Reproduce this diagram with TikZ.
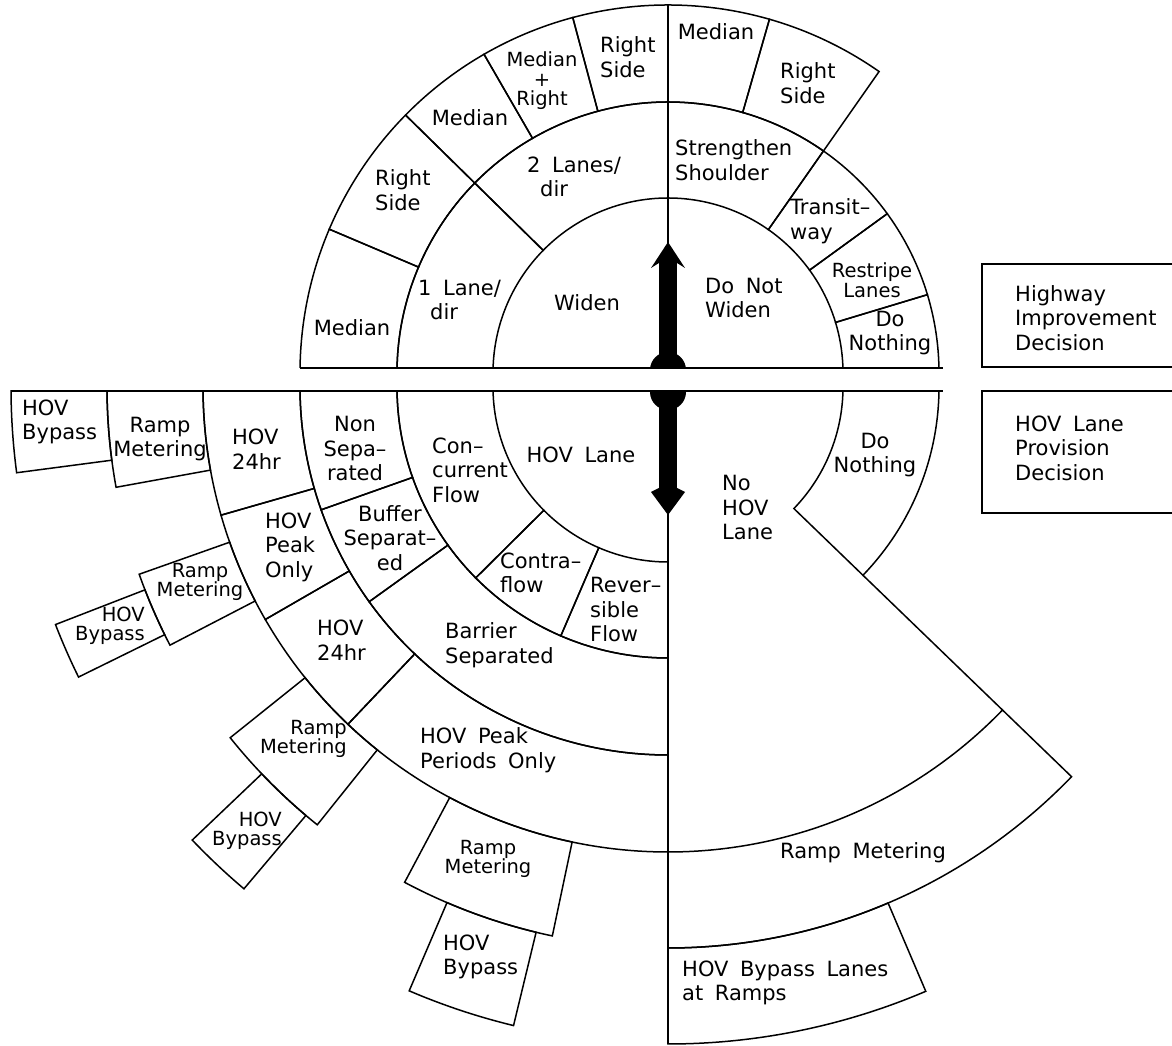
\documentclass[tikz,border=0pt]{standalone}
\usepackage{fontspec}
\setmainfont{DejaVu Sans}
\newcommand{\band}[4]{\draw[part] (#1:#3) -- (#1:#4) arc[start angle=#1, end angle=#2, radius=#4] -- (#2:#3) arc[start angle=#2, end angle=#1, radius=#3] -- cycle;}
\newcommand{\wsp}{\hspace{0.55em}}
\tikzset{
	part/.style={line width=1.5pt},
	lbl/.style={inner sep=0pt, align=left, font=\fontsize{21}{24.5}\selectfont},
	lblc/.style={lbl, align=center},
	lblr/.style={lbl, align=right},
	snug/.style={font=\fontsize{19.5}{19.5}\selectfont},
}
\begin{document}
\begin{tikzpicture}[x=1pt, y=1pt]
	\useasboundingbox (0,0) rectangle (1172,1046);
	\begin{scope}[shift={(668,673)}]
		\clip (-400,5) rectangle (400,400);
		\band{135.5}{180}{175}{271}
		\band{90}{135.5}{175}{271}
		\band{55}{90}{175}{271}
		\band{36}{55}{175}{271}
		\band{16.8}{36}{175}{271}
		\band{0}{16.8}{175}{271}
		\band{157}{180}{271}{368}
		\band{135.5}{157}{271}{368}
		\band{120}{135.5}{271}{368}
		\band{105}{120}{271}{368}
		\band{90}{105}{271}{368}
		\band{74}{90}{271}{368}
		\band{55}{74}{271}{368}
		\draw[part] (90:0) -- (90:368);
	\end{scope}
	\begin{scope}[shift={(668,659)}]
		\clip (-700,-4) rectangle (700,-700);
		\band{180}{224.8}{175}{271}
		\band{224.8}{246.7}{175}{271}
		\band{246.7}{270}{175}{271}
		\band{180}{199.5}{271}{368}
		\band{199.5}{215.7}{271}{368}
		\band{215.7}{270}{271}{368}
		\band{180}{196}{368}{465}
		\band{196}{210}{368}{465}
		\band{210}{226.5}{368}{465}
		\band{226.5}{270}{368}{465}
		\band{180}{190.3}{465}{561}
		\band{180}{187.5}{561}{657}
		\band{199.5}{207.4}{465}{561}
		\band{201.2}{206.2}{561}{657}
		\band{218.7}{231.3}{465}{561}
		\band{223.6}{229.8}{561}{657}
		\band{242}{258.1}{465}{561}
		\band{246.8}{256.4}{561}{657}
		\band{316}{360}{175}{271}
		\band{270}{316}{465}{561}
		\band{270}{293.1}{561}{657}
		\draw[part] (316:271) -- (316:465);
		\draw[part] (270:0) -- (270:657);
	\end{scope}
	\draw[part] (300,678) -- (943,678);
	\draw[part] (11,655) -- (943,655);
	\begin{scope}
		\clip (640,678) rectangle (700,700);
		\fill (668,676) circle[radius=18];
	\end{scope}
	\fill (659,678) rectangle (677,783);
	\fill (659,783) -- (651,778) -- (668,804) -- (685,778) -- (677,783) -- cycle;
	\begin{scope}
		\clip (640,655) rectangle (700,630);
		\fill (668,654) circle[radius=18];
	\end{scope}
	\fill (659,655) rectangle (677,558);
	\fill (659,558) -- (651,554) -- (668,531) -- (685,554) -- (677,558) -- cycle;
	\draw[part] (1172,782) -- (982,782) -- (982,679) -- (1172,679);
	\draw[part] (1172,655) -- (982,655) -- (982,533) -- (1172,533);
	\node[lblc] (medA) at (352,718) {Median};
	\node[lbl, anchor=west] (rsA) at (375,856) {Right\\Side};
	\node[lblc] (medB) at (470,928) {Median};
	\node[lblc, snug] (medR) at (542,965) {Median\\+\\Right};
	\node[lbl, anchor=west] (rsB) at (600,989) {Right\\Side};
	\node[lbl, anchor=west] (twoL) at (527,869) {2\wsp Lanes/\\\hspace*{13pt}dir};
	\node[lbl, anchor=west] (oneL) at (418,746) {1\wsp Lane/\\\hspace*{12pt}dir};
	\node[lblc] (widen) at (587,743) {Widen};
	\node[lbl, anchor=west] (nowiden) at (705,748) {Do\wsp Not\\Widen};
	\node[lbl, anchor=west] (shoulder) at (675,886) {Strengthen\\Shoulder};
	\node[lbl, anchor=west] (transit) at (790,825) {Transit--\\way};
	\node[lblc, snug] (restripe) at (872,766) {Restripe\\Lanes};
	\node[lblc] (nothingA) at (890,713) {Do\\Nothing};
	\node[lblc] (medC) at (716,1014) {Median};
	\node[lbl, anchor=west] (rsC) at (780,963) {Right\\Side};
	\node[lbl, anchor=west] (bypA) at (22,624) {HOV\\Bypass};
	\node[lblc] (rmA) at (160,607) {Ramp\\Metering};
	\node[lbl, anchor=west] (allA) at (232,597) {HOV\\24hr};
	\node[lblc] (nonsep) at (355,597) {Non\\Sepa--\\rated};
	\node[lbl, anchor=west] (concur) at (432,576) {Con--\\current\\Flow};
	\node[lblc] (hovlane) at (581,591) {HOV\wsp Lane};
	\node[lbl, anchor=west] (peakA) at (265,499) {HOV\\Peak\\Only};
	\node[lblc] (buffer) at (390,508) {Buffer\\Separat--\\ed};
	\node[lbl, anchor=west] (contra) at (500,473) {Contra--\\flow};
	\node[lbl, anchor=west] (revers) at (590,436) {Rever--\\sible\\Flow};
	\node[lbl, anchor=west] (barrier) at (445,401) {Barrier\\Separated};
	\node[lbl, anchor=west] (allB) at (317,406) {HOV\\24hr};
	\node[lblc, snug] (rmB) at (200,464) {Ramp\\Metering};
	\node[lblr, snug, anchor=east] (bypB) at (145,420) {HOV\\Bypass};
	\node[lblr, snug, anchor=east] (rmC) at (347,307) {Ramp\\Metering};
	\node[lblr, snug, anchor=east] (bypC) at (282,215) {HOV\\Bypass};
	\node[lbl, anchor=west] (peakB) at (420,296) {HOV\wsp Peak\\Periods\wsp Only};
	\node[lblc, snug] (rmD) at (488,187) {Ramp\\Metering};
	\node[lbl, anchor=west] (bypD) at (443,89) {HOV\\Bypass};
	\node[lbl, anchor=west] (nohov) at (722,538) {No\\HOV\\Lane};
	\node[lblc] (nothingB) at (875,591) {Do\\Nothing};
	\node[lblc] (rmE) at (863,193) {Ramp\wsp Metering};
	\node[lbl, anchor=west] (bypE) at (682,63) {HOV\wsp Bypass\wsp Lanes\\at\wsp Ramps};
	\node[lbl, anchor=west] (hwy) at (1015,728) {Highway\\Improvement\\Decision};
	\node[lbl, anchor=west] (prov) at (1015,598) {HOV\wsp Lane\\Provision\\Decision};
\end{tikzpicture}
\end{document}
